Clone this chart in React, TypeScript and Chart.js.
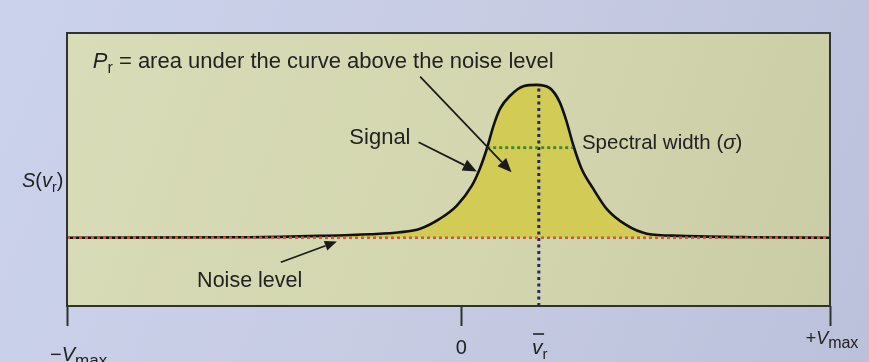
import React, { useEffect, useRef } from "react";
import { Chart, registerables } from "chart.js";

Chart.register(...registerables);

// Velocity axis (arbitrary units, -Vmax .. +Vmax) and spectral power axis
const X_MIN = -10.7;
const X_MAX = 10;
const Y_MIN = 0;
const Y_MAX = 100;

const NOISE_LEVEL = 25;

// Doppler spectrum S(v_r)
const SIGNAL_V = [
  -10.7, -5.74, -3.84, -2.48, -1.67, -1.12, -0.58, -0.13, 0.28, 0.5, 0.69, 0.87, 1.05, 1.32,
  1.68, 2.04, 2.4, 2.67, 2.86, 3.04, 3.26, 3.58, 3.94, 4.48, 5.03, 5.93, 7.83, 10,
];
const SIGNAL_S = [
  25, 25.2, 25.7, 26.3, 27, 28.3, 32, 36.7, 44, 50.3, 57.6, 66, 72.3, 77,
  80.5, 81, 79.8, 74.6, 67.3, 58.7, 50.3, 42.9, 35.6, 29.6, 26.5, 25.7, 25.2, 25,
];

// Mean radial velocity and spectral width markers
const MEAN_VELOCITY = 2.1;
const PEAK_POWER = 81;
const WIDTH_LEVEL = 58;
const WIDTH_LEFT = 0.7;
const WIDTH_RIGHT = 3.03;

// Velocity axis ticks
const AXIS_TICKS = [X_MIN, 0, X_MAX];

const FONT = '"Liberation Sans", Arial, Helvetica, sans-serif';
const TEXT = "#222222";

type Seg = { t: string; italic?: boolean; size?: number; dy?: number };

function fontOf(s: Seg, base: number) {
  return `${s.italic ? "italic " : ""}${s.size ?? base}px ${FONT}`;
}

function drawRich(
  ctx: CanvasRenderingContext2D,
  segs: Seg[],
  x: number,
  y: number,
  base: number,
  align: "left" | "center" | "right" = "left"
) {
  ctx.save();
  ctx.textAlign = "left";
  ctx.textBaseline = "alphabetic";
  ctx.fillStyle = TEXT;
  let total = 0;
  for (const s of segs) {
    ctx.font = fontOf(s, base);
    total += ctx.measureText(s.t).width;
  }
  let cx = align === "left" ? x : align === "center" ? x - total / 2 : x - total;
  const starts: number[] = [];
  for (const s of segs) {
    ctx.font = fontOf(s, base);
    starts.push(cx);
    ctx.fillText(s.t, cx, y + (s.dy ?? 0));
    cx += ctx.measureText(s.t).width;
  }
  ctx.restore();
  return { starts, width: total };
}

function drawArrow(
  ctx: CanvasRenderingContext2D,
  x1: number,
  y1: number,
  x2: number,
  y2: number,
  head = 14,
  half = 6
) {
  const a = Math.atan2(y2 - y1, x2 - x1);
  const bx = x2 - head * Math.cos(a);
  const by = y2 - head * Math.sin(a);
  ctx.save();
  ctx.strokeStyle = "#1a1a1a";
  ctx.fillStyle = "#1a1a1a";
  ctx.lineWidth = 1.7;
  ctx.beginPath();
  ctx.moveTo(x1, y1);
  ctx.lineTo(bx, by);
  ctx.stroke();
  ctx.beginPath();
  ctx.moveTo(x2, y2);
  ctx.lineTo(bx + half * Math.sin(a), by - half * Math.cos(a));
  ctx.lineTo(bx - half * Math.sin(a), by + half * Math.cos(a));
  ctx.closePath();
  ctx.fill();
  ctx.restore();
}

const spectrumDecor = {
  id: "spectrumDecor",
  beforeDraw(chart: any) {
    const { ctx, chartArea: a, width, height } = chart;
    ctx.save();
    const page = ctx.createLinearGradient(0, 0, width, height);
    page.addColorStop(0, "#cbd2ec");
    page.addColorStop(0.5, "#c7cce3");
    page.addColorStop(1, "#bbc1db");
    ctx.fillStyle = page;
    ctx.fillRect(0, 0, width, height);
    const box = ctx.createLinearGradient(a.left, a.top, a.right, a.bottom);
    box.addColorStop(0, "#d8dcb8");
    box.addColorStop(0.55, "#d3d6ae");
    box.addColorStop(1, "#c9cca4");
    ctx.fillStyle = box;
    ctx.fillRect(a.left, a.top, a.right - a.left, a.bottom - a.top);
    ctx.restore();
  },
  afterDraw(chart: any) {
    const { ctx, chartArea: a } = chart;
    const xs = chart.scales.x;
    const ys = chart.scales.y;
    const px = (v: number) => xs.getPixelForValue(v);
    const py = (v: number) => ys.getPixelForValue(v);

    // frame
    ctx.save();
    ctx.strokeStyle = "#2e3330";
    ctx.lineWidth = 2;
    ctx.strokeRect(a.left, a.top, a.right - a.left, a.bottom - a.top);

    // tick marks below the frame
    ctx.lineWidth = 2;
    for (const t of AXIS_TICKS) {
      const x = Math.round(px(t)) + 0.5;
      ctx.beginPath();
      ctx.moveTo(x, a.bottom);
      ctx.lineTo(x, a.bottom + 20);
      ctx.stroke();
    }
    ctx.restore();

    // tick labels
    drawRich(ctx, [{ t: "−" }, { t: "V", italic: true }, { t: "max", size: 17, dy: 5 }], px(X_MIN) - 17, a.bottom + 55, 20);
    drawRich(ctx, [{ t: "0" }], px(0), a.bottom + 48, 20, "center");
    drawRich(ctx, [{ t: "+" }, { t: "V", italic: true }, { t: "max", size: 16, dy: 4 }], px(X_MAX) + 2, a.bottom + 38, 18, "center");
    const vr = drawRich(ctx, [{ t: "v", italic: true }, { t: "r", size: 15, dy: 5 }], px(MEAN_VELOCITY) + 1, a.bottom + 48, 21, "center");
    ctx.save();
    ctx.strokeStyle = TEXT;
    ctx.lineWidth = 1.6;
    ctx.beginPath();
    ctx.moveTo(vr.starts[0] + 1, a.bottom + 28);
    ctx.lineTo(vr.starts[0] + 12, a.bottom + 28);
    ctx.stroke();
    ctx.restore();

    // y-axis label
    drawRich(
      ctx,
      [{ t: "S", italic: true }, { t: "(" }, { t: "v", italic: true }, { t: "r", size: 14, dy: 5 }, { t: ")" }],
      a.left - 45,
      py(43.5),
      20
    );

    // annotations
    drawRich(
      ctx,
      [{ t: "P", italic: true }, { t: "r", size: 16, dy: 5 }, { t: " = area under the curve above the noise level" }],
      px(-10.0),
      py(87),
      22
    );
    drawArrow(ctx, px(-1.12), py(84), px(1.36), py(49));

    drawRich(ctx, [{ t: "Signal" }], px(-3.04), py(59.5), 22);
    drawArrow(ctx, px(-1.16), py(60), px(0.42), py(49.3));

    drawRich(ctx, [{ t: "Spectral width (" }, { t: "σ", italic: true }, { t: ")" }], px(3.27), py(57.4), 20.5);

    drawRich(ctx, [{ t: "Noise level" }], px(-7.17), py(7), 21.5);
    drawArrow(ctx, px(-4.9), py(16), px(-3.38), py(23.6), 12, 5);
  },
};

export default function App() {
  const ref = useRef<HTMLCanvasElement | null>(null);

  useEffect(() => {
    document.body.style.margin = "0";
    const canvas = ref.current;
    if (!canvas) return;
    const signal = SIGNAL_V.map((v, i) => ({ x: v, y: SIGNAL_S[i] }));
    const chart = new Chart(canvas, {
      type: "line",
      data: {
        datasets: [
          {
            label: "Noise level",
            data: [
              { x: X_MIN, y: NOISE_LEVEL },
              { x: X_MAX, y: NOISE_LEVEL },
            ],
            borderColor: "#e2532c",
            borderWidth: 2.6,
            borderDash: [3, 3],
            pointRadius: 0,
            fill: false,
            order: 1,
          },
          {
            label: "Spectral width",
            data: [
              { x: WIDTH_LEFT, y: WIDTH_LEVEL },
              { x: WIDTH_RIGHT, y: WIDTH_LEVEL },
            ],
            borderColor: "#358a38",
            borderWidth: 2.8,
            borderDash: [3, 3],
            pointRadius: 0,
            fill: false,
            order: 2,
          },
          {
            label: "Mean velocity",
            data: [
              { x: MEAN_VELOCITY, y: Y_MIN },
              { x: MEAN_VELOCITY, y: PEAK_POWER },
            ],
            borderColor: "#1f2a6e",
            borderWidth: 3,
            borderDash: [3, 3.5],
            pointRadius: 0,
            fill: false,
            order: 3,
          },
          {
            label: "Signal",
            data: signal,
            borderColor: "#111111",
            borderWidth: 2.6,
            backgroundColor: "#d2cb55",
            fill: { value: NOISE_LEVEL },
            cubicInterpolationMode: "monotone",
            pointRadius: 0,
            order: 4,
          },
        ],
      },
      options: {
        responsive: false,
        animation: false,
        devicePixelRatio: 1,
        layout: { padding: { left: 67, top: 33, right: 39, bottom: 56 } },
        scales: {
          x: { type: "linear", min: X_MIN, max: X_MAX, display: false },
          y: { type: "linear", min: Y_MIN, max: Y_MAX, display: false },
        },
        plugins: {
          legend: { display: false },
          tooltip: { enabled: false },
        },
      },
      plugins: [spectrumDecor],
    });
    return () => chart.destroy();
  }, []);

  return (
    <div style={{ position: "fixed", left: 0, top: 0, width: 869, height: 362 }}>
      <canvas ref={ref} width={869} height={362} />
    </div>
  );
}
